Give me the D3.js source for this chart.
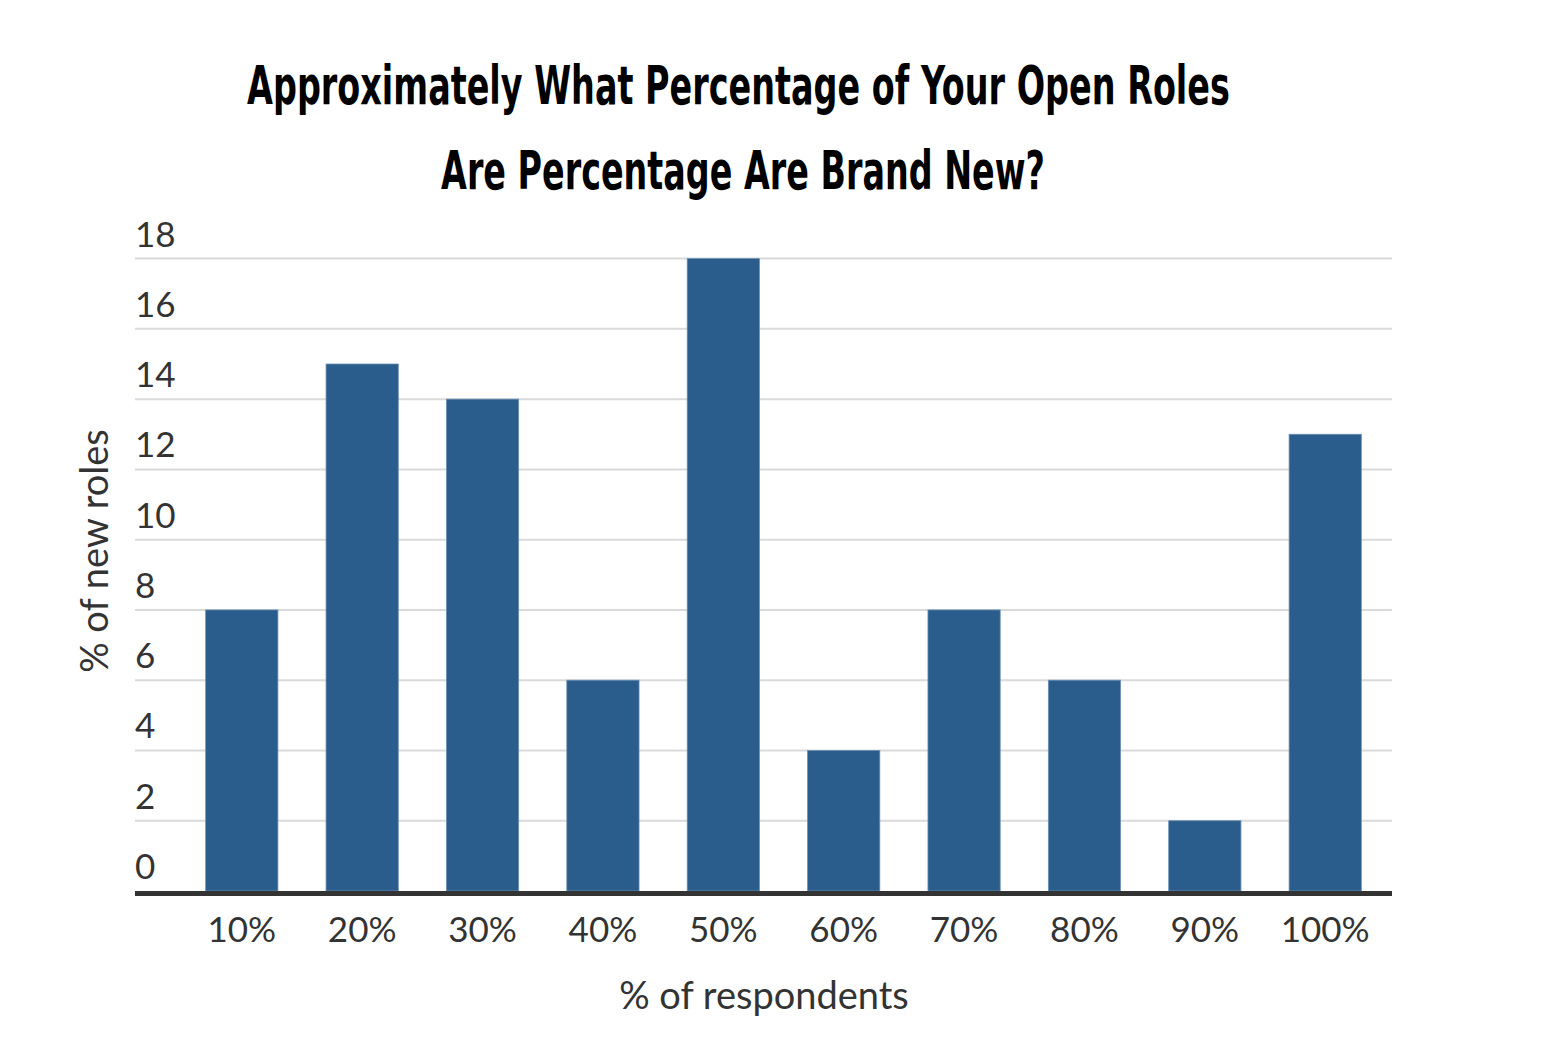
<!DOCTYPE html>
<html>
<head>
<meta charset="utf-8">
<script src="https://cdn.jsdelivr.net/npm/d3@7"></script>
<style>
  body { margin: 0; background: #fff; }
  text { fill: #333; }
</style>
</head>
<body>
<svg id="chart" width="1550" height="1040"></svg>
<script>
var categories = ['10%', '20%', '30%', '40%', '50%', '60%', '70%', '80%', '90%', '100%'];
var values = [8, 15, 14, 6, 18, 4, 8, 6, 2, 13];
var yTicks = [0, 2, 4, 6, 8, 10, 12, 14, 16, 18];
var titleLines = ['Approximately What Percentage of Your Open Roles', 'Are Percentage Are Brand New?'];

var svg = d3.select('#chart');
var bodyFont = 'Lato, "Source Sans Pro", sans-serif';

var x = d3.scaleBand()
    .domain(categories)
    .range([181.6, 1385.4])
    .paddingInner(0.4)
    .paddingOuter(0.2);

var y = d3.scaleLinear()
    .domain([0, 18])
    .range([891, 258.6]);

var gridLeft = 135, gridRight = 1392;

// gridlines
svg.append('g')
    .selectAll('line')
    .data(yTicks.filter(function(t) { return t > 0; }))
    .enter()
    .append('line')
    .attr('x1', gridLeft)
    .attr('x2', gridRight)
    .attr('y1', function(d) { return y(d); })
    .attr('y2', function(d) { return y(d); })
    .attr('stroke', '#dadada')
    .attr('stroke-width', 2);

// y tick labels sit above their gridline
svg.append('g')
    .selectAll('text')
    .data(yTicks)
    .enter()
    .append('text')
    .attr('x', 135)
    .attr('y', function(d) { return y(d) - 12; })
    .attr('font-family', bodyFont)
    .attr('font-size', 35)
    .text(function(d) { return d; });

// bars
svg.append('g')
    .selectAll('rect')
    .data(values)
    .enter()
    .append('rect')
    .attr('x', function(d, i) { return x(categories[i]); })
    .attr('y', function(d) { return y(d); })
    .attr('width', x.bandwidth())
    .attr('height', function(d) { return y(0) - y(d); })
    .attr('fill', '#2a5c8c')
    .attr('stroke', '#6b8fb3')
    .attr('stroke-width', 0.8);

// baseline
svg.append('line')
    .attr('x1', gridLeft)
    .attr('x2', gridRight)
    .attr('y1', y(0) + 2.5)
    .attr('y2', y(0) + 2.5)
    .attr('stroke', '#333')
    .attr('stroke-width', 5);

// x axis labels
svg.append('g')
    .selectAll('text')
    .data(categories)
    .enter()
    .append('text')
    .attr('x', function(d) { return x(d) + x.bandwidth() / 2; })
    .attr('y', 942)
    .attr('text-anchor', 'middle')
    .attr('font-family', bodyFont)
    .attr('font-size', 35)
    .text(function(d) { return d; });

svg.append('text')
    .attr('x', 764)
    .attr('y', 1009)
    .attr('text-anchor', 'middle')
    .attr('font-family', bodyFont)
    .attr('font-size', 38)
    .text('% of respondents');

svg.append('text')
    .attr('transform', 'translate(108,551) rotate(-90)')
    .attr('text-anchor', 'middle')
    .attr('font-family', bodyFont)
    .attr('font-size', 38)
    .text('% of new roles');

// title: squeeze each line horizontally to the reference width
var titleWidths = [983, 604];
var titleCenters = [738.5, 743];
svg.append('g')
    .selectAll('text')
    .data(titleLines)
    .enter()
    .append('text')
    .attr('x', 0)
    .attr('y', 0)
    .attr('text-anchor', 'middle')
    .attr('font-family', '"Liberation Sans Narrow", "DejaVu Sans Condensed", sans-serif')
    .attr('font-weight', 'bold')
    .attr('font-size', 53)
    .style('fill', '#000')
    .text(function(d) { return d; })
    .attr('transform', function(d, i) {
      var sx = titleWidths[i] / this.getComputedTextLength();
      return 'translate(' + titleCenters[i] + ',' + (104 + i * 85) + ') scale(' + sx + ',1)';
    });
</script>
</body>
</html>
